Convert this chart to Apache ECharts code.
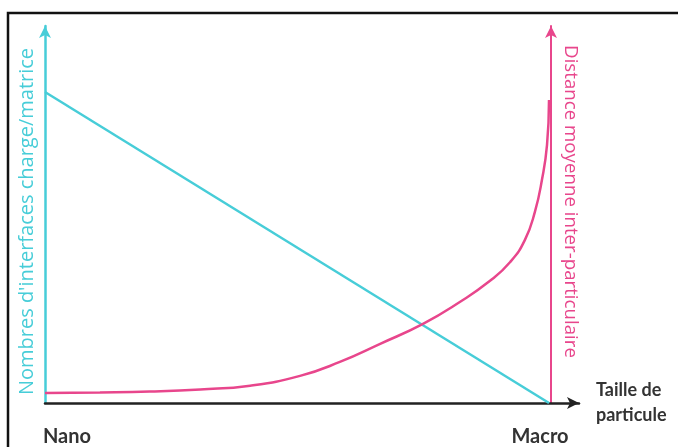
<!DOCTYPE html>
<html>
<head>
<meta charset="utf-8">
<script src="https://cdn.jsdelivr.net/npm/echarts@6/dist/echarts.min.js"></script>
<style>
  html, body { margin: 0; padding: 0; background: #fff; }
  #chart { width: 678px; height: 447px; }
</style>
</head>
<body>
<div id="chart"></div>
<script>
// particle size goes from nano (0) to macro (100), values are relative (0-100)
const sizeTicks = [0, 100];
const sizeLabels = ['Nano', 'Macro'];

// number of filler/matrix interfaces: straight drop
const interfacesX = [0, 100];
const interfacesY = [82.5, 0];

// mean inter-particle distance: flat then sharp rise near macro
const distanceX = [0, 10.9, 20.8, 30.8, 40.7, 50.6, 58.5, 66.5, 75, 82.3, 88.3, 92.3, 95.2, 97.2, 98.6, 99.6, 100];
const distanceY = [2.65, 2.8, 3.05, 3.6, 4.6, 7.2, 10.9, 15.7, 21, 26.8, 32.4, 37.4, 43.2, 50.7, 59.2, 68.4, 80.4];

const cyan = '#47cdd8';
const pink = '#e8468c';

function pairs(xs, ys) {
    let out = [];
    for (let i = 0; i < xs.length; i++) {
        out.push([xs[i], ys[i]]);
    }
    return out;
}

let dom = document.getElementById('chart');
let myChart = echarts.init(dom, null, { renderer: 'canvas' });

let option = {
    backgroundColor: '#fff',
    animation: false,
    grid: { left: 45, right: 99, top: 26, bottom: 44 },
    xAxis: {
        type: 'value',
        min: 0,
        max: 105.95,
        interval: 100,
        splitLine: { show: false },
        axisTick: { show: false },
        axisLine: {
            lineStyle: { color: '#222', width: 2.5 },
            symbol: ['none', 'arrow'],
            symbolSize: [9, 12]
        },
        axisLabel: {
            margin: 24,
            formatter: function (v) {
                let i = sizeTicks.indexOf(v);
                if (i === 0) return '{a|' + sizeLabels[0] + '}';
                if (i === 1) return '{b|' + sizeLabels[1] + '}';
                return '';
            },
            rich: {
                a: { fontFamily: 'Lato', fontWeight: 'bold', fontSize: 20, color: '#333', padding: [0, 0, 0, 44] },
                b: { fontFamily: 'Lato', fontWeight: 'bold', fontSize: 20, color: '#333', padding: [0, 18, 0, 0] }
            }
        },
        name: 'Taille de\nparticule',
        nameLocation: 'end',
        nameGap: 17,
        nameTextStyle: {
            fontFamily: 'Lato', fontWeight: 'bold', fontSize: 18, color: '#333',
            lineHeight: 25, padding: [5, 0, 0, 0]
        }
    },
    yAxis: [
        {
            type: 'value',
            min: 0,
            max: 100,
            position: 'left',
            splitLine: { show: false },
            axisTick: { show: false },
            axisLabel: { show: false },
            axisLine: {
                show: true,
                lineStyle: { color: cyan, width: 2.5 },
                symbol: ['none', 'arrow'],
                symbolSize: [9, 12]
            },
            name: "Nombres d'interfaces charge/matrice",
            nameLocation: 'middle',
            nameRotate: 90,
            nameGap: 8,
            nameTextStyle: { fontFamily: 'Open Sans', fontSize: 20, color: cyan, padding: [0, 14, 0, 0] }
        },
        {
            type: 'value',
            min: 0,
            max: 100,
            position: 'right',
            offset: -28,
            splitLine: { show: false },
            axisTick: { show: false },
            axisLabel: { show: false },
            axisLine: {
                show: true,
                lineStyle: { color: pink, width: 2 },
                symbol: ['none', 'arrow'],
                symbolSize: [9, 12]
            },
            name: 'Distance moyenne inter-particulaire',
            nameLocation: 'middle',
            nameRotate: -90,
            nameGap: 10,
            nameTextStyle: { fontFamily: 'Open Sans', fontSize: 18.7, color: pink, padding: [0, 26, 0, 0] }
        }
    ],
    graphic: [
        {
            type: 'rect',
            shape: { x: 8, y: 13, width: 720, height: 500 },
            style: { fill: 'none', stroke: '#111', lineWidth: 2.5 },
            silent: true
        }
    ],
    series: [
        {
            type: 'line',
            yAxisIndex: 0,
            data: pairs(interfacesX, interfacesY),
            showSymbol: false,
            lineStyle: { color: cyan, width: 2.5 }
        },
        {
            type: 'line',
            yAxisIndex: 1,
            data: pairs(distanceX, distanceY),
            smooth: 0.5,
            showSymbol: false,
            lineStyle: { color: pink, width: 2.5 }
        }
    ]
};

myChart.setOption(option);
</script>
</body>
</html>
